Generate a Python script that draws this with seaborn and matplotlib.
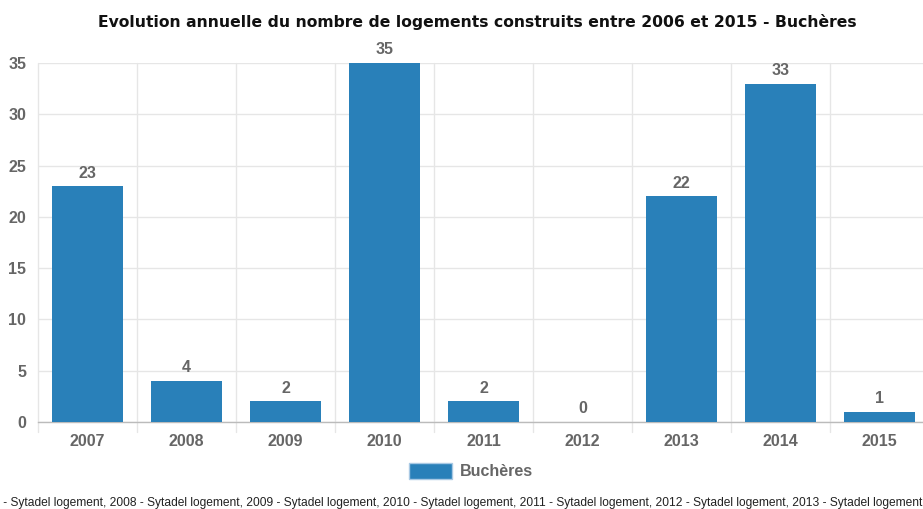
import matplotlib
matplotlib.use("Agg")
import matplotlib.pyplot as plt
import seaborn as sns
import pandas as pd
from matplotlib.patches import Patch

years = ["2007", "2008", "2009", "2010", "2011", "2012", "2013", "2014", "2015"]
logements = [23, 4, 2, 35, 2, 0, 22, 33, 1]
y_ticks = [0, 5, 10, 15, 20, 25, 30, 35]
commune = "Buchères"
title = "Evolution annuelle du nombre de logements construits entre 2006 et 2015 - Buchères"
source = ", ".join(f"{y} - Sytadel logement" for y in years)

df = pd.DataFrame({"annee": years, "logements": logements})

sns.set_theme(style="white")
plt.rcParams["font.family"] = ["Liberation Sans", "DejaVu Sans"]

BLUE = "#2980b9"
GREY = "#666666"
GRID = "#e6e6e6"

W, H = 923, 509
fig = plt.figure(figsize=(W / 100, H / 100), dpi=100)
renderer = fig.canvas.get_renderer()


def text_width(s, **kw):
    t = fig.text(0, 0, s, **kw)
    w = t.get_window_extent(renderer).width
    t.remove()
    return w


left_px, right_px, top_px, bottom_px = 38, 929, 63, 422
ax = fig.add_axes([left_px / W, 1 - bottom_px / H,
                   (right_px - left_px) / W, (bottom_px - top_px) / H])

sns.barplot(data=df, x="annee", y="logements", color=BLUE, width=0.71,
            saturation=1, ax=ax, zorder=3, edgecolor=BLUE, linewidth=0)

ax.set_xlim(-0.5, len(years) - 0.5)
ax.set_ylim(0, 35)
ax.set_yticks(y_ticks)
ax.set_xlabel("")
ax.set_ylabel("")

# Horizontal grid at y ticks, vertical grid at category boundaries
for t in y_ticks:
    ax.axhline(t, color=GRID, lw=1, zorder=0)
for b in range(len(years) + 1):
    ax.axvline(b - 0.5, ymin=-0.028, ymax=1, color=GRID, lw=1, zorder=0, clip_on=False)

for s in ["top", "right", "left"]:
    ax.spines[s].set_visible(False)
ax.spines["bottom"].set_color("#bbbbbb")
ax.spines["bottom"].set_linewidth(1)

ax.tick_params(axis="y", length=7, width=1, color=GRID, pad=1.5,
               labelsize=11.5, labelcolor=GREY)
ax.tick_params(axis="x", length=0, pad=9, labelsize=11.5, labelcolor=GREY)
for lab in ax.get_xticklabels() + ax.get_yticklabels():
    lab.set_fontweight("bold")

for i, v in enumerate(logements):
    ax.annotate(str(v), (i, v), xytext=(0, 4), textcoords="offset points",
                ha="center", va="bottom", fontsize=11.5, fontweight="bold",
                color=GREY, zorder=4)

# Title sized to span 760 px
title_kw = dict(fontweight="bold", color="#111111",
                family=["Liberation Sans Narrow", "DejaVu Sans"])
tsize = 10 * 760 / text_width(title, fontsize=10, **title_kw)
fig.text(477 / W, 1 - 22 / H, title, ha="center", va="center",
         fontsize=tsize, **title_kw)

handles = [Patch(facecolor=BLUE, edgecolor="#a9c9e4", linewidth=1)]
fig.legend(handles, [commune], loc="center", bbox_to_anchor=(471 / W, 1 - 471 / H),
           frameon=False, handlelength=2.7, handleheight=1.25, handletextpad=0.5,
           prop={"weight": "bold", "size": 11.5}, labelcolor=GREY)

# Source line: each "YYYY - Sytadel logement, " block is about 138 px wide;
# the leading "2007 " runs off the left edge
src_kw = dict(color="#222222", family=["Liberation Sans"])
ssize = 10 * 138 / text_width("2008 - Sytadel logement, ", fontsize=10, **src_kw)
lead = text_width("2007 ", fontsize=ssize, **src_kw)
fig.text((3 - lead) / W, 1 - 503 / H, source, ha="left", va="center",
         fontsize=ssize, **src_kw)

fig.savefig("out.png", dpi=100, facecolor="white")
